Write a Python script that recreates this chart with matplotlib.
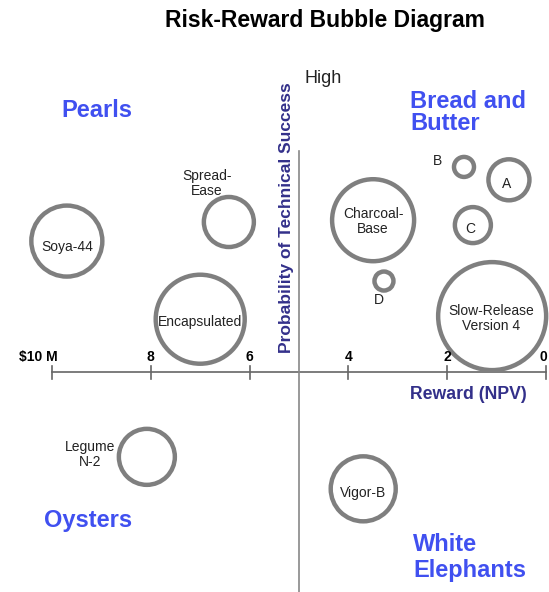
import matplotlib.pyplot as plt

plt.rcParams['font.family'] = ['Liberation Sans', 'DejaVu Sans']

# projects: reward (NPV, $M), probability of technical success, bubble size
projects = ['Soya-44', 'Spread-\nEase', 'Encapsulated', 'Charcoal-\nBase', 'D', 'B', 'A', 'C',
            'Slow-Release\nVersion 4', 'Legume\nN-2', 'Vigor-B']
reward = [9.70, 6.42, 7.00, 3.50, 3.28, 1.66, 0.75, 1.48, 1.09, 8.08, 3.70]
prob = [0.796, 0.839, 0.620, 0.843, 0.706, 0.963, 0.934, 0.832, 0.627, 0.310, 0.238]
size = [35.5, 25, 44.5, 41, 9.5, 10, 20.5, 18, 54, 28, 32.5]
# label offsets (points) relative to bubble centre
label_dx = [0, -16, 0, 0, -4, -19, -2, -2, -1, -41, 0]
label_dy = [-4, 28, -2, -1, -14, 4, -3, -3, -2, 2, -3]

ticks = [10, 8, 6, 4, 2, 0]
tick_labels = ['$10 M', '8', '6', '4', '2', '0']

quadrants = ['Pearls', 'Bread and\nButter', 'Oysters', 'White\nElephants']
quad_x = [9.82, 2.75, 10.16, 2.69]
quad_y = [1.091, 1.086, 0.166, 0.084]

BLUE = '#4050f0'
NAVY = '#33308a'
GRAY = '#7f7f7f'

fig = plt.figure(figsize=(5.49, 5.92), dpi=100)
ax = fig.add_axes([0, 0, 1, 1])
ax.set_xlim(11.053, -0.061)
ax.set_ylim(0.0056, 1.339)
ax.axis('off')

# axes cross
ax.plot([10, 0], [0.5, 0.5], color='#666666', lw=1.2, zorder=1)
ax.plot([5, 5], [0, 1.0], color='#888888', lw=1.2, zorder=1)
for t, lab in zip(ticks, tick_labels):
    ax.plot([t, t], [0.486, 0.514], color='#666666', lw=1.2, zorder=1)
    dx = 0
    if lab.startswith('$'):
        dx = -10
    elif lab == '0':
        dx = -2
    ax.annotate(lab, (t, 0.5), xytext=(dx, 6), textcoords='offset points',
                ha='center', va='bottom', fontsize=10, fontweight='bold')

# bubbles
s = [(1.44 * r) ** 2 for r in size]
ax.scatter(reward, prob, s=s, facecolor='white', edgecolor=GRAY, linewidth=3.2, zorder=2)
for name, x, y, dx, dy in zip(projects, reward, prob, label_dx, label_dy):
    ax.annotate(name, (x, y), xytext=(dx, dy), textcoords='offset points',
                ha='center', va='center', fontsize=10, color='#222222',
                linespacing=1.1, zorder=3)

# quadrant names
for q, x, y in zip(quadrants, quad_x, quad_y):
    ls = 1.15 if q.startswith('White') else 0.95
    ax.text(x, y, q, ha='left', va='center', fontsize=17,
            fontweight='bold', color=BLUE, linespacing=ls)

ax.text(4.88, 1.163, 'High', ha='left', va='center', fontsize=13, color='#222222')
ax.text(5.26, 0.849, 'Probability of Technical Success', rotation=90, ha='center', va='center',
        fontsize=12.5, fontweight='bold', color=NAVY)
ax.text(1.57, 0.451, 'Reward (NPV)', ha='center', va='center', fontsize=12.7,
        fontweight='bold', color=NAVY)

fig.text(0.592, 0.966, 'Risk-Reward Bubble Diagram', ha='center', va='center',
         fontsize=16.5, fontweight='bold')

fig.savefig('out.png', dpi=100)
